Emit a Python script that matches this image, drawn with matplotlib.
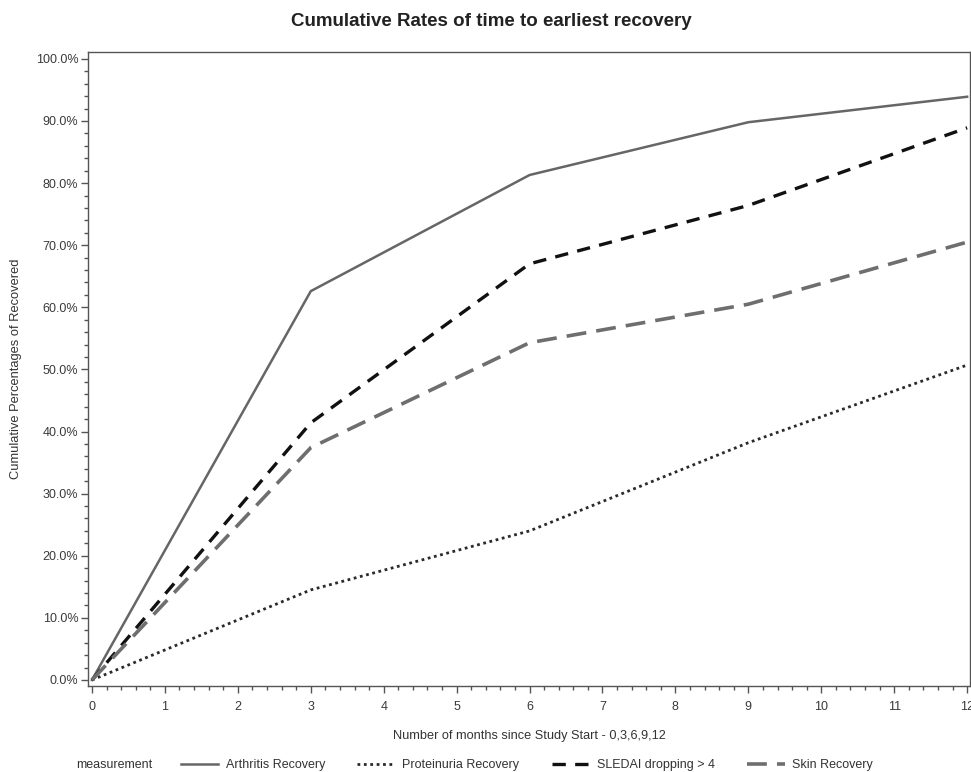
import numpy as np
import matplotlib.pyplot as plt
from matplotlib.ticker import MultipleLocator, FuncFormatter

plt.rcParams['font.family'] = ['Liberation Sans', 'DejaVu Sans']

# data (cumulative % recovered)
months = [0, 3, 6, 9, 12]
arthritis = [0, 62.6, 81.3, 89.8, 93.9]
proteinuria = [0, 14.5, 24.0, 38.2, 50.7]
sledai = [0, 41.4, 67.0, 76.4, 88.9]
skin = [0, 37.4, 54.3, 60.5, 70.5]

labels = ['Arthritis Recovery', 'Proteinuria Recovery', 'SLEDAI dropping > 4', 'Skin Recovery']

fig = plt.figure(figsize=(9.71, 7.72), dpi=100)
ax = fig.add_axes([0.0906, 0.1114, 0.9084, 0.8212])

ax.plot(months, arthritis, color='#666666', lw=1.8, ls='-', label=labels[0])
ax.plot(months, proteinuria, color='#2a2a2a', lw=2.0, ls=(0, (1.0, 1.3)), label=labels[1])
ax.plot(months, sledai, color='#111111', lw=2.4, ls=(0, (4.0, 2.8)), label=labels[2])
ax.plot(months, skin, color='#6e6e6e', lw=2.6, ls=(0, (5.5, 2.8)), label=labels[3])

ax.set_xlim(-0.055, 12.04)
ax.set_ylim(-0.97, 101.1)

ax.xaxis.set_major_locator(MultipleLocator(1))
ax.xaxis.set_minor_locator(MultipleLocator(0.2))
ax.yaxis.set_major_locator(MultipleLocator(10))
ax.yaxis.set_minor_locator(MultipleLocator(2))
ax.yaxis.set_major_formatter(FuncFormatter(lambda v, p: '%.1f%%' % v))

for s in ax.spines.values():
    s.set_color('#555555')
    s.set_linewidth(1.0)
ax.tick_params(which='major', length=5, width=1, color='#555555', labelsize=9, labelcolor='#3a3a3a')
ax.tick_params(axis='x', which='major', pad=6)
ax.tick_params(axis='y', which='major', pad=2)
ax.tick_params(which='minor', length=3, width=1, color='#555555')

ax.set_xlabel('Number of months since Study Start - 0,3,6,9,12', fontsize=9.2, color='#333333', labelpad=12)
ax.set_ylabel('Cumulative Percentages of Recovered', fontsize=9.3, color='#333333', labelpad=10)

fig.text(0.506, 0.972, 'Cumulative Rates of time to earliest recovery', ha='center', va='center',
         fontsize=13.5, fontweight='bold', color='#222222')

fig.text(0.078, 0.009, 'measurement', ha='left', va='center', fontsize=9, color='#333333')
handles, labs = ax.get_legend_handles_labels()
leg = fig.legend(handles, labs, ncol=4, loc='center left', bbox_to_anchor=(0.186, 0.009),
                 frameon=False, fontsize=9, handlelength=3.0, columnspacing=2.6,
                 handletextpad=0.6, borderpad=0, borderaxespad=0)
for t in leg.get_texts():
    t.set_color('#333333')

fig.savefig('out.png', dpi=100)
